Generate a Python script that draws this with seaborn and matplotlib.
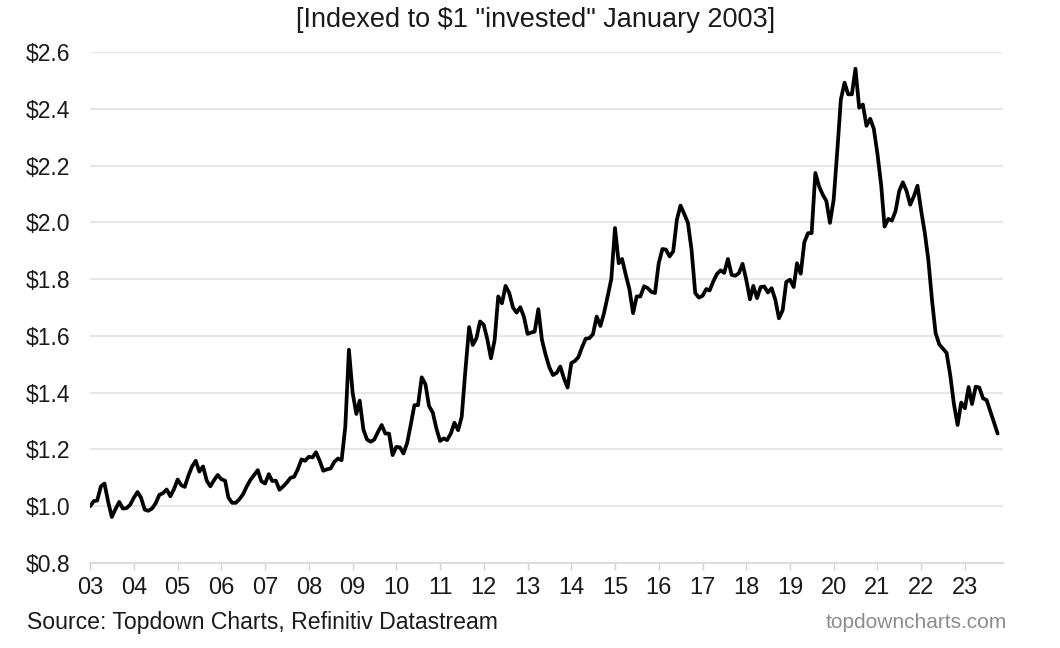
import numpy as np
import pandas as pd
import matplotlib
matplotlib.use("Agg")
import matplotlib.pyplot as plt
import seaborn as sns

# Monthly index values, Jan 2003 onward
values = [
    1.000, 1.018, 1.020, 1.070, 1.080, 1.015, 0.962, 0.990, 1.015, 0.992, 0.993, 1.005,  # 2003
    1.030, 1.050, 1.030, 0.988, 0.984, 0.992, 1.010, 1.040, 1.046, 1.059, 1.035, 1.060,  # 2004
    1.094, 1.074, 1.068, 1.108, 1.140, 1.160, 1.122, 1.140, 1.090, 1.070, 1.092, 1.110,  # 2005
    1.095, 1.090, 1.030, 1.012, 1.012, 1.025, 1.042, 1.070, 1.093, 1.110, 1.127, 1.088,  # 2006
    1.080, 1.113, 1.089, 1.090, 1.058, 1.070, 1.083, 1.100, 1.104, 1.130, 1.165, 1.160,  # 2007
    1.174, 1.172, 1.190, 1.160, 1.125, 1.130, 1.133, 1.156, 1.168, 1.162, 1.280, 1.551,  # 2008
    1.400, 1.325, 1.372, 1.270, 1.235, 1.227, 1.235, 1.262, 1.286, 1.256, 1.256, 1.180,  # 2009
    1.209, 1.207, 1.186, 1.222, 1.286, 1.356, 1.356, 1.454, 1.430, 1.353, 1.330, 1.275,  # 2010
    1.230, 1.239, 1.233, 1.256, 1.294, 1.268, 1.315, 1.480, 1.631, 1.568, 1.592, 1.651,  # 2011
    1.639, 1.586, 1.521, 1.586, 1.739, 1.715, 1.776, 1.751, 1.700, 1.682, 1.701, 1.668,  # 2012
    1.607, 1.612, 1.615, 1.694, 1.586, 1.533, 1.490, 1.462, 1.470, 1.492, 1.450, 1.418,  # 2013
    1.504, 1.512, 1.525, 1.560, 1.590, 1.592, 1.606, 1.668, 1.635, 1.680, 1.740, 1.800,  # 2014
    1.980, 1.856, 1.871, 1.815, 1.765, 1.680, 1.739, 1.739, 1.775, 1.768, 1.755, 1.751,  # 2015
    1.856, 1.906, 1.904, 1.880, 1.898, 2.010, 2.059, 2.030, 1.998, 1.904, 1.751, 1.735,  # 2016
    1.741, 1.765, 1.760, 1.792, 1.818, 1.831, 1.822, 1.871, 1.815, 1.812, 1.821, 1.854,  # 2017
    1.798, 1.729, 1.776, 1.733, 1.772, 1.774, 1.753, 1.768, 1.727, 1.662, 1.690, 1.790,  # 2018
    1.798, 1.772, 1.856, 1.819, 1.930, 1.962, 1.962, 2.174, 2.127, 2.098, 2.075, 1.998,  # 2019
    2.080, 2.256, 2.433, 2.492, 2.451, 2.451, 2.541, 2.404, 2.415, 2.340, 2.365, 2.330,  # 2020
    2.240, 2.130, 1.985, 2.012, 2.006, 2.040, 2.110, 2.141, 2.110, 2.062, 2.092, 2.129,  # 2021
    2.040, 1.960, 1.870, 1.727, 1.610, 1.570, 1.555, 1.540, 1.460, 1.360, 1.286, 1.365,  # 2022
    1.345, 1.420, 1.360, 1.421, 1.418, 1.380, 1.374, 1.335, 1.295, 1.256,               # 2023
]
dates = pd.date_range("2003-01-01", periods=len(values), freq="MS")

tick_years = list(range(2003, 2024))
tick_labels = [f"{y % 100:02d}" for y in tick_years]
y_ticks = [0.8, 1.0, 1.2, 1.4, 1.6, 1.8, 2.0, 2.2, 2.4, 2.6]
y_labels = [f"\\${v:.1f}" for v in y_ticks]

sns.set_theme(style="white")
plt.rcParams['font.family'] = ['Liberation Sans', 'DejaVu Sans']

fig = plt.figure(figsize=(10.6, 6.48), dpi=100)
ax = fig.add_axes([90 / 1060, 85 / 648, 913 / 1060, 511 / 648])

df = pd.DataFrame({"date": dates, "value": values})
sns.lineplot(data=df, x="date", y="value", ax=ax, color="black", linewidth=2.7)

ax.set_ylim(0.8, 2.6)
ax.set_yticks(y_ticks)
ax.set_yticklabels(y_labels)
ax.yaxis.grid(True, color="#e6e6e6", linewidth=1.5)
ax.xaxis.grid(False)
ax.set_axisbelow(True)

tick_dates = pd.to_datetime([f"{y}-01-01" for y in tick_years])
ax.set_xticks(tick_dates)
ax.set_xticklabels(tick_labels)
ax.set_xlim(pd.Timestamp("2002-12-31"), pd.Timestamp("2023-11-15"))

for s in ["top", "right", "left"]:
    ax.spines[s].set_visible(False)
ax.spines["bottom"].set_color("#dcdcdc")
ax.spines["bottom"].set_linewidth(1.5)

ax.tick_params(axis="x", length=5, color="#d0d0d0", width=1, pad=5,
               labelsize=17, labelcolor="#1a1a1a", bottom=True)
ax.tick_params(axis="y", length=0, pad=14, labelsize=16.5, labelcolor="#1a1a1a")
ax.set_xlabel("")
ax.set_ylabel("")

fig.text(536 / 1060, 1 - 20 / 648, '[Indexed to \\$1 "invested" January 2003]',
         ha="center", va="center", fontsize=19.5, color="#1a1a1a")
fig.text(27 / 1060, 1 - 622 / 648, "Source: Topdown Charts, Refinitiv Datastream",
         ha="left", va="center", fontsize=16.6, color="#1a1a1a")
fig.text(1007 / 1060, 1 - 622 / 648, "topdowncharts.com",
         ha="right", va="center", fontsize=15, color="#8c8c8c")

fig.savefig("out.png", dpi=100)
